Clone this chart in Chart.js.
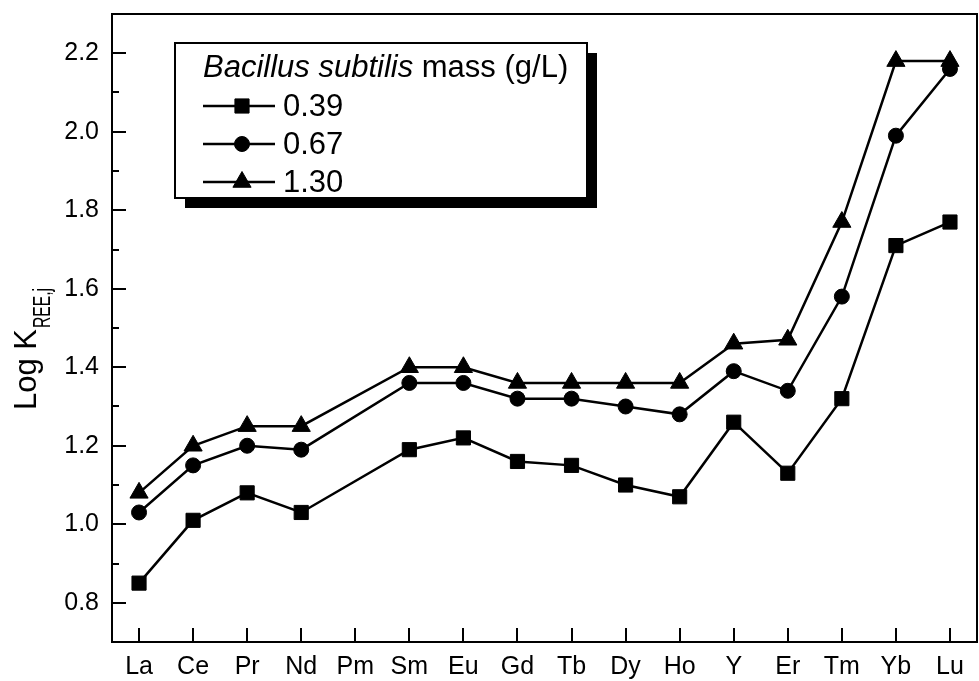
<!DOCTYPE html>
<html>
<head>
<meta charset="utf-8">
<script src="https://cdn.jsdelivr.net/npm/chart.js@4.4.1/dist/chart.umd.min.js"></script>
<style>
  html, body { margin: 0; padding: 0; background: #fff; }
  #wrap { width: 979px; height: 681px; }
</style>
</head>
<body>
<div id="wrap"><canvas id="chart" width="979" height="681"></canvas></div>
<script>
// Data
const elements = ['La', 'Ce', 'Pr', 'Nd', 'Pm', 'Sm', 'Eu', 'Gd', 'Tb', 'Dy', 'Ho', 'Y', 'Er', 'Tm', 'Yb', 'Lu'];
const mass039 = [0.85, 1.01, 1.08, 1.03, null, 1.19, 1.22, 1.16, 1.15, 1.10, 1.07, 1.26, 1.13, 1.32, 1.71, 1.77];
const mass067 = [1.03, 1.15, 1.20, 1.19, null, 1.36, 1.36, 1.32, 1.32, 1.30, 1.28, 1.39, 1.34, 1.58, 1.99, 2.16];
const mass130 = [1.08, 1.20, 1.25, 1.25, null, 1.40, 1.40, 1.36, 1.36, 1.36, 1.36, 1.46, 1.47, 1.77, 2.18, 2.18];
const seriesLabels = ['0.39', '0.67', '1.30'];
const yTicks = [0.8, 1.0, 1.2, 1.4, 1.6, 1.8, 2.0, 2.2];
const yMinorTicks = [0.9, 1.1, 1.3, 1.5, 1.7, 1.9, 2.1];
const legendTitleItalic = 'Bacillus subtilis';
const legendTitleRest = ' mass (g/L)';
const yTitleMain = 'Log K';
const yTitleSub = 'REE,j';

const FONT = '"Liberation Sans", Arial, sans-serif';
Chart.defaults.font.family = FONT;
Chart.defaults.color = '#000';

const markers = [
    { pointStyle: 'rect', radius: 10 },
    { pointStyle: 'circle', radius: 7.5 },
    { pointStyle: 'triangle', radius: 10.5 }
];

function makeDataset(label, data, m) {
    return {
        label: label,
        data: data,
        borderColor: '#000',
        backgroundColor: '#000',
        borderWidth: 2.5,
        pointStyle: m.pointStyle,
        pointRadius: m.radius,
        pointHoverRadius: m.radius,
        pointBorderWidth: 1,
        pointBackgroundColor: '#000',
        pointBorderColor: '#000',
        tension: 0,
        spanGaps: true,
        clip: false
    };
}

// frame round the plot and inward tick marks
const frameTicks = {
    id: 'frameTicks',
    beforeDatasetsDraw(chart) {
        const { ctx, chartArea: a, scales } = chart;
        ctx.save();
        ctx.strokeStyle = '#000';
        ctx.lineWidth = 2;
        ctx.strokeRect(a.left, a.top, a.right - a.left, a.bottom - a.top);
        ctx.beginPath();
        elements.forEach((e, i) => {
            const x = Math.round(scales.x.getPixelForValue(i));
            ctx.moveTo(x, a.bottom);
            ctx.lineTo(x, a.bottom - 14);
        });
        yTicks.forEach(v => {
            const y = Math.round(scales.y.getPixelForValue(v));
            ctx.moveTo(a.left, y);
            ctx.lineTo(a.left + 14, y);
        });
        yMinorTicks.forEach(v => {
            const y = Math.round(scales.y.getPixelForValue(v));
            ctx.moveTo(a.left, y);
            ctx.lineTo(a.left + 7, y);
        });
        ctx.stroke();
        ctx.restore();
    }
};

// boxed legend with drop shadow
const shadowLegend = {
    id: 'shadowLegend',
    afterDatasetsDraw(chart) {
        const ctx = chart.ctx;
        const box = { x: 175, y: 43, w: 412, h: 155, off: 10 };
        ctx.save();
        ctx.fillStyle = '#000';
        ctx.fillRect(box.x + box.off, box.y + box.off, box.w, box.h);
        ctx.fillStyle = '#fff';
        ctx.fillRect(box.x, box.y, box.w, box.h);
        ctx.strokeStyle = '#000';
        ctx.lineWidth = 2;
        ctx.strokeRect(box.x, box.y, box.w, box.h);

        ctx.fillStyle = '#000';
        ctx.textBaseline = 'alphabetic';
        ctx.textAlign = 'left';
        ctx.font = 'italic 31px ' + FONT;
        ctx.fillText(legendTitleItalic, 203, 77);
        const w = ctx.measureText(legendTitleItalic).width;
        ctx.font = '31px ' + FONT;
        ctx.fillText(legendTitleRest, 203 + w, 77);

        const rows = [106, 144, 182];
        chart.data.datasets.forEach((ds, i) => {
            const y = rows[i];
            ctx.beginPath();
            ctx.lineWidth = 2.5;
            ctx.moveTo(203, y);
            ctx.lineTo(275, y);
            ctx.stroke();
            ctx.lineWidth = 1;
            Chart.helpers.drawPoint(ctx, { pointStyle: ds.pointStyle, radius: ds.pointRadius, borderWidth: 1, rotation: 0 }, 242, y);
            ctx.fillText(ds.label, 283, y + 10);
        });
        ctx.restore();
    }
};

// rotated y title with subscript
const yTitle = {
    id: 'yTitle',
    afterDraw(chart) {
        const ctx = chart.ctx;
        ctx.save();
        ctx.translate(36, 410);
        ctx.rotate(-Math.PI / 2);
        ctx.fillStyle = '#000';
        ctx.textAlign = 'left';
        ctx.textBaseline = 'alphabetic';
        ctx.font = '31px ' + FONT;
        ctx.fillText(yTitleMain, 0, 0);
        const w = ctx.measureText(yTitleMain).width;
        ctx.font = '23px ' + FONT;
        const sw = ctx.measureText(yTitleSub).width;
        ctx.translate(w + 1, 14);
        ctx.scale(40 / sw, 1);
        ctx.fillText(yTitleSub, 0, 0);
        ctx.restore();
    }
};

new Chart(document.getElementById('chart'), {
    type: 'line',
    data: {
        labels: elements,
        datasets: [
            makeDataset(seriesLabels[0], mass039, markers[0]),
            makeDataset(seriesLabels[1], mass067, markers[1]),
            makeDataset(seriesLabels[2], mass130, markers[2])
        ]
    },
    options: {
        responsive: false,
        animation: false,
        layout: { autoPadding: false, padding: { top: 14, right: 2, left: 0, bottom: 0 } },
        plugins: { legend: { display: false }, tooltip: { enabled: false } },
        scales: {
            x: {
                type: 'category',
                offset: true,
                grid: { display: false, drawTicks: false },
                border: { display: false },
                ticks: { font: { size: 25 }, color: '#000', padding: 10, maxRotation: 0, autoSkip: false },
                afterFit: scale => {
                    scale.height = 39;
                    scale.paddingLeft = 0;
                    scale.paddingRight = 0;
                }
            },
            y: {
                min: 0.7,
                max: 2.3,
                grid: { display: false, drawTicks: false },
                border: { display: false },
                afterBuildTicks: scale => { scale.ticks = yTicks.map(v => ({ value: v })); },
                ticks: { font: { size: 25 }, color: '#000', padding: 13, callback: v => v.toFixed(1) },
                afterFit: scale => {
                    scale.width = 112;
                    scale.paddingTop = 0;
                    scale.paddingBottom = 0;
                }
            }
        }
    },
    plugins: [frameTicks, shadowLegend, yTitle]
});
</script>
</body>
</html>
